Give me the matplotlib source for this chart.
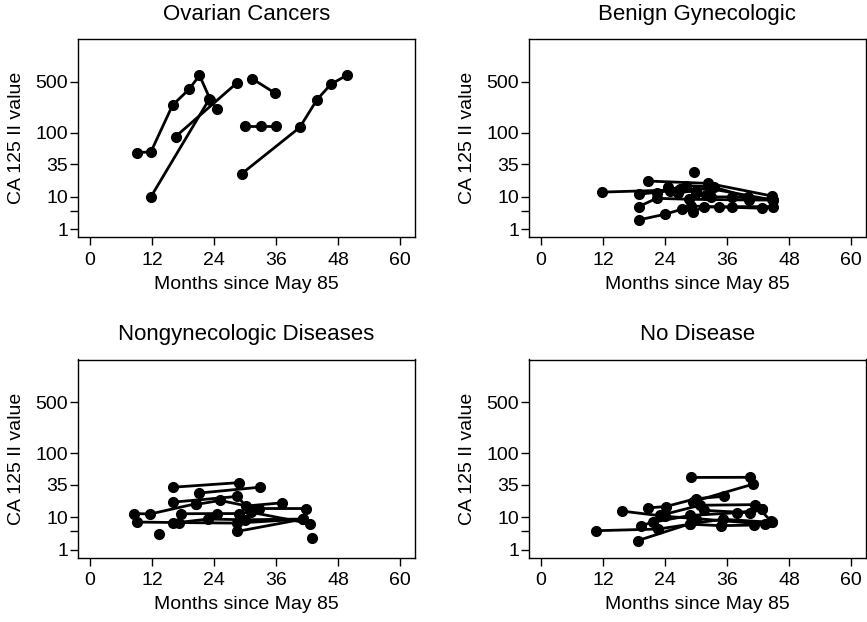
import numpy as np
import matplotlib
matplotlib.use("Agg")
import matplotlib.pyplot as plt

# offset of the log scale used on the y axis
OFFSET = 4.2

titles = ["Ovarian Cancers", "Benign Gynecologic",
          "Nongynecologic Diseases", "No Disease"]

ytick_vals = [1, 5, 10, 35, 100, 500]
ytick_labels = ["1", "", "10", "35", "100", "500"]
xtick_vals = [0, 12, 24, 36, 48, 60]

# one list of (months, values) per patient, per panel
ovarian = [
    ([9.2, 11.8, 16.0, 19.2, 21.2, 23.3, 24.6], [52, 53, 240, 395, 610, 285, 210]),
    ([11.8, 23.1], [10, 290]),
    ([16.6, 28.5], [88, 485]),
    ([31.4, 35.8], [550, 350]),
    ([30.0, 33.2, 36.1], [124, 124, 124]),
    ([29.4, 40.6, 43.9, 46.6, 49.8], [25, 118, 282, 461, 617]),
]

benign = [
    ([11.9, 33.0, 44.9], [12.3, 14, 8.7]),
    ([20.8, 32.4, 44.7], [19, 17.4, 10.4]),
    ([29.7], [27]),
    ([18.9, 25.0, 27.0, 30.0, 33.0, 37.0, 44.7], [11.2, 13, 14, 12, 10, 10, 9]),
    ([18.9, 22.4, 28.6, 40.2, 44.9], [6.3, 9.4, 9, 8.7, 8.7]),
    ([18.9, 24.0, 27.3, 29.5, 31.5, 34.4, 37.0, 44.9], [2.75, 4.1, 5.5, 4.8, 6.2, 6.2, 6.3, 6.3]),
    ([29.0, 42.8], [6.5, 5.8]),
    ([22.5, 28.0, 33.5, 40.0], [12, 16, 15, 10]),
    ([24.5, 26.5, 30.0, 32.0], [15, 12, 13, 11]),
]

nongyn = [
    ([8.6, 11.7, 20.5], [11.8, 11.6, 17.5]),
    ([9.2, 17.2, 28.4, 41.3], [8.1, 7.9, 7.7, 9.3]),
    ([13.3], [4.3]),
    ([16.1, 28.8], [32, 37.5]),
    ([21.1, 32.9], [26, 32]),
    ([16.1, 28.5, 30.2, 37.1], [18.6, 23, 16, 18.1]),
    ([20.5, 25.2, 32.8, 41.9], [17, 19.8, 14.5, 14.5]),
    ([17.7, 24.5, 28.9, 31.1, 42.6], [11.7, 11.8, 11.8, 12.5, 7.5]),
    ([16.1, 22.9, 30.0, 41.3], [7.7, 9.3, 9, 9.3]),
    ([28.5, 41.3], [5.0, 9.3]),
    ([42.9], [3.4]),
]

nodisease = [
    ([10.6, 22.7, 28.9, 34.8, 41.3, 44.7], [5.2, 5.7, 7.3, 6.8, 7.0, 8.0]),
    ([15.6, 24.0, 30.0, 43.4], [13.1, 10.5, 9.5, 7.3]),
    ([18.7, 28.9, 35.3, 44.7], [2.7, 7.5, 9.2, 8.0]),
    ([19.3, 21.6, 28.9, 37.9, 42.8], [6.8, 8.0, 10.9, 12.2, 14]),
    ([20.8, 24.2, 30.0, 35.5], [14.9, 15.7, 21.2, 23.1]),
    ([29.1, 40.5], [44.8, 45]),
    ([29.5, 41.0], [19, 35.5]),
    ([23.1, 30.8, 41.5, 44.5], [10.9, 16.5, 16.9, 8.5]),
    ([31.5, 40.4, 42.8], [13.5, 12.2, 14]),
]

panels = [ovarian, benign, nongyn, nodisease]


def fwd(y):
    return np.log10(np.maximum(np.asarray(y, dtype=float) + OFFSET, 1e-6))


def inv(t):
    return 10 ** np.asarray(t, dtype=float) - OFFSET


plt.rcParams["font.family"] = ["Liberation Sans", "DejaVu Sans"]

W, H = 867, 622
fig = plt.figure(figsize=(W / 100, H / 100), dpi=100)

# axes boxes in pixels: left, top, right, bottom
boxes = [(78, 39, 415, 237), (529, 39, 866, 237),
         (78, 359.5, 415, 557.5), (529, 359.5, 866, 557.5)]

for box, title, patients in zip(boxes, titles, panels):
    l, t, r, b = box
    ax = fig.add_axes([l / W, (H - b) / H, (r - l) / W, (b - t) / H])
    ax.set_yscale("function", functions=(fwd, inv))
    for months, vals in patients:
        ax.plot(months, vals, color="black", lw=2, marker="o",
                markersize=7, solid_capstyle="round")
    ax.set_xlim(-2.3, 62.9)
    ax.set_ylim(-0.1, 1890)
    ax.set_xticks(xtick_vals)
    ax.set_yticks(ytick_vals)
    ax.set_yticklabels(ytick_labels)
    ax.minorticks_off()
    ax.tick_params(axis="both", direction="out", length=5.5, width=1,
                   labelsize=14, pad=1.5)
    ax.tick_params(axis="x", pad=5)
    for sp in ax.spines.values():
        sp.set_linewidth(1)
    ax.set_title(title, fontsize=16, pad=14)
    ax.set_xlabel("Months since May 85", fontsize=14, labelpad=5)
    ax.set_ylabel("CA 125 II value", fontsize=14, labelpad=8)

fig.savefig("out.png", dpi=100)
